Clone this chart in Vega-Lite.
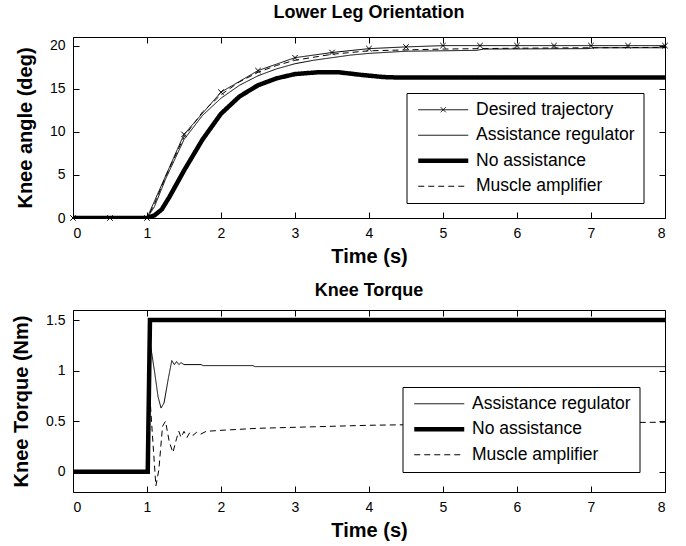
{
  "$schema": "https://vega.github.io/schema/vega-lite/v6.json",
  "padding": {"left": 11, "top": 3, "right": 10, "bottom": 2},
  "background": "white",
  "spacing": 14,
  "resolve": {
    "scale": {"color": "independent", "strokeWidth": "independent", "strokeDash": "independent"},
    "legend": {"color": "independent", "strokeWidth": "independent", "strokeDash": "independent"}
  },
  "datasets": {
    "angle": [
      {"s": "Desired trajectory", "t": 0, "v": 0},
      {"s": "Desired trajectory", "t": 0.5, "v": 0},
      {"s": "Desired trajectory", "t": 1, "v": 0},
      {"s": "Desired trajectory", "t": 1.5, "v": 9.7},
      {"s": "Desired trajectory", "t": 2, "v": 14.6},
      {"s": "Desired trajectory", "t": 2.5, "v": 17.1},
      {"s": "Desired trajectory", "t": 3, "v": 18.6},
      {"s": "Desired trajectory", "t": 3.5, "v": 19.2},
      {"s": "Desired trajectory", "t": 4, "v": 19.65},
      {"s": "Desired trajectory", "t": 4.5, "v": 19.85},
      {"s": "Desired trajectory", "t": 5, "v": 20},
      {"s": "Desired trajectory", "t": 5.5, "v": 20},
      {"s": "Desired trajectory", "t": 6, "v": 20},
      {"s": "Desired trajectory", "t": 6.5, "v": 20},
      {"s": "Desired trajectory", "t": 7, "v": 20},
      {"s": "Desired trajectory", "t": 7.5, "v": 20},
      {"s": "Desired trajectory", "t": 8, "v": 20},
      {"s": "Assistance regulator", "t": 0, "v": 0},
      {"s": "Assistance regulator", "t": 1, "v": 0},
      {"s": "Assistance regulator", "t": 1.1, "v": 1.3},
      {"s": "Assistance regulator", "t": 1.25, "v": 4.5},
      {"s": "Assistance regulator", "t": 1.5, "v": 9.1},
      {"s": "Assistance regulator", "t": 1.75, "v": 11.9},
      {"s": "Assistance regulator", "t": 2, "v": 13.9},
      {"s": "Assistance regulator", "t": 2.25, "v": 15.4},
      {"s": "Assistance regulator", "t": 2.5, "v": 16.5},
      {"s": "Assistance regulator", "t": 2.75, "v": 17.3},
      {"s": "Assistance regulator", "t": 3, "v": 17.9},
      {"s": "Assistance regulator", "t": 3.25, "v": 18.3},
      {"s": "Assistance regulator", "t": 3.5, "v": 18.6},
      {"s": "Assistance regulator", "t": 3.75, "v": 18.9},
      {"s": "Assistance regulator", "t": 4, "v": 19.1},
      {"s": "Assistance regulator", "t": 4.5, "v": 19.35},
      {"s": "Assistance regulator", "t": 5.45, "v": 19.45},
      {"s": "Assistance regulator", "t": 5.55, "v": 19.6},
      {"s": "Assistance regulator", "t": 6.95, "v": 19.65},
      {"s": "Assistance regulator", "t": 7.05, "v": 19.75},
      {"s": "Assistance regulator", "t": 8, "v": 19.75},
      {"s": "No assistance", "t": 0, "v": 0},
      {"s": "No assistance", "t": 1, "v": 0},
      {"s": "No assistance", "t": 1.1, "v": 0.3},
      {"s": "No assistance", "t": 1.2, "v": 1.0},
      {"s": "No assistance", "t": 1.3, "v": 2.4},
      {"s": "No assistance", "t": 1.5, "v": 5.5},
      {"s": "No assistance", "t": 1.75, "v": 9.1},
      {"s": "No assistance", "t": 2, "v": 12.1},
      {"s": "No assistance", "t": 2.25, "v": 14.1},
      {"s": "No assistance", "t": 2.5, "v": 15.4},
      {"s": "No assistance", "t": 2.75, "v": 16.2},
      {"s": "No assistance", "t": 3, "v": 16.7},
      {"s": "No assistance", "t": 3.3, "v": 16.9},
      {"s": "No assistance", "t": 3.6, "v": 16.9},
      {"s": "No assistance", "t": 3.9, "v": 16.6},
      {"s": "No assistance", "t": 4.2, "v": 16.35},
      {"s": "No assistance", "t": 4.4, "v": 16.3},
      {"s": "No assistance", "t": 8, "v": 16.3},
      {"s": "Muscle amplifier", "t": 0, "v": 0},
      {"s": "Muscle amplifier", "t": 1, "v": 0},
      {"s": "Muscle amplifier", "t": 1.1, "v": 1.6},
      {"s": "Muscle amplifier", "t": 1.25, "v": 4.8},
      {"s": "Muscle amplifier", "t": 1.5, "v": 9.4},
      {"s": "Muscle amplifier", "t": 1.75, "v": 12.3},
      {"s": "Muscle amplifier", "t": 2, "v": 14.3},
      {"s": "Muscle amplifier", "t": 2.25, "v": 15.8},
      {"s": "Muscle amplifier", "t": 2.5, "v": 16.9},
      {"s": "Muscle amplifier", "t": 2.75, "v": 17.7},
      {"s": "Muscle amplifier", "t": 3, "v": 18.3},
      {"s": "Muscle amplifier", "t": 3.5, "v": 19.0},
      {"s": "Muscle amplifier", "t": 4, "v": 19.4},
      {"s": "Muscle amplifier", "t": 5, "v": 19.6},
      {"s": "Muscle amplifier", "t": 6, "v": 19.7},
      {"s": "Muscle amplifier", "t": 7, "v": 19.75},
      {"s": "Muscle amplifier", "t": 8, "v": 19.8}
    ],
    "torque": [
      {"s": "Assistance regulator", "t": 0, "v": 0},
      {"s": "Assistance regulator", "t": 1.0, "v": 0},
      {"s": "Assistance regulator", "t": 1.02, "v": 0.9},
      {"s": "Assistance regulator", "t": 1.05, "v": 1.24},
      {"s": "Assistance regulator", "t": 1.1, "v": 1.0},
      {"s": "Assistance regulator", "t": 1.15, "v": 0.74},
      {"s": "Assistance regulator", "t": 1.19, "v": 0.63},
      {"s": "Assistance regulator", "t": 1.23, "v": 0.68},
      {"s": "Assistance regulator", "t": 1.29, "v": 0.93},
      {"s": "Assistance regulator", "t": 1.335, "v": 1.1},
      {"s": "Assistance regulator", "t": 1.37, "v": 1.06},
      {"s": "Assistance regulator", "t": 1.4, "v": 1.09},
      {"s": "Assistance regulator", "t": 1.43, "v": 1.06},
      {"s": "Assistance regulator", "t": 1.46, "v": 1.08},
      {"s": "Assistance regulator", "t": 1.5, "v": 1.06},
      {"s": "Assistance regulator", "t": 1.73, "v": 1.06},
      {"s": "Assistance regulator", "t": 1.76, "v": 1.05},
      {"s": "Assistance regulator", "t": 2.43, "v": 1.05},
      {"s": "Assistance regulator", "t": 2.46, "v": 1.04},
      {"s": "Assistance regulator", "t": 8, "v": 1.04},
      {"s": "No assistance", "t": 0, "v": 0},
      {"s": "No assistance", "t": 1.01, "v": 0},
      {"s": "No assistance", "t": 1.04, "v": 1.5},
      {"s": "No assistance", "t": 8, "v": 1.5},
      {"s": "Muscle amplifier", "t": 0, "v": 0},
      {"s": "Muscle amplifier", "t": 1.0, "v": 0},
      {"s": "Muscle amplifier", "t": 1.03, "v": 0.85},
      {"s": "Muscle amplifier", "t": 1.07, "v": 0.4},
      {"s": "Muscle amplifier", "t": 1.12, "v": -0.14},
      {"s": "Muscle amplifier", "t": 1.16, "v": 0.02},
      {"s": "Muscle amplifier", "t": 1.21, "v": 0.45},
      {"s": "Muscle amplifier", "t": 1.25, "v": 0.5},
      {"s": "Muscle amplifier", "t": 1.3, "v": 0.3},
      {"s": "Muscle amplifier", "t": 1.35, "v": 0.19},
      {"s": "Muscle amplifier", "t": 1.4, "v": 0.33},
      {"s": "Muscle amplifier", "t": 1.43, "v": 0.4},
      {"s": "Muscle amplifier", "t": 1.46, "v": 0.34},
      {"s": "Muscle amplifier", "t": 1.5, "v": 0.4},
      {"s": "Muscle amplifier", "t": 1.54, "v": 0.34},
      {"s": "Muscle amplifier", "t": 1.58, "v": 0.39},
      {"s": "Muscle amplifier", "t": 1.62, "v": 0.36},
      {"s": "Muscle amplifier", "t": 1.67, "v": 0.39},
      {"s": "Muscle amplifier", "t": 1.72, "v": 0.37},
      {"s": "Muscle amplifier", "t": 1.8, "v": 0.4},
      {"s": "Muscle amplifier", "t": 2, "v": 0.41},
      {"s": "Muscle amplifier", "t": 2.5, "v": 0.43},
      {"s": "Muscle amplifier", "t": 3, "v": 0.44},
      {"s": "Muscle amplifier", "t": 4, "v": 0.46},
      {"s": "Muscle amplifier", "t": 5, "v": 0.47},
      {"s": "Muscle amplifier", "t": 6, "v": 0.48},
      {"s": "Muscle amplifier", "t": 7, "v": 0.485},
      {"s": "Muscle amplifier", "t": 8, "v": 0.49}
    ]
  },
  "vconcat": [
    {
      "width": 592,
      "height": 181,
      "title": {"text": "Lower Leg Orientation", "fontSize": 18, "font": "Liberation Sans", "fontWeight": "bold", "color": "black", "offset": 15},
      "data": {"name": "angle"},
      "resolve": {"axis": {"x": "independent", "y": "independent"}},
      "layer": [
        {
          "mark": {"type": "line", "clip": true},
          "encoding": {
            "x": {"field": "t", "type": "quantitative", "scale": {"domain": [0, 8], "nice": false},
                  "axis": {"orient": "bottom", "values": [0,1,2,3,4,5,6,7,8], "title": "Time (s)", "tickSize": -6}},
            "y": {"field": "v", "type": "quantitative", "scale": {"domain": [0, 21], "nice": false, "zero": false},
                  "axis": {"orient": "left", "values": [0,5,10,15,20], "title": "Knee angle (deg)", "tickSize": -6}},
            "color": {"field": "s", "type": "nominal",
                      "scale": {"domain": ["Desired trajectory", "Assistance regulator", "No assistance", "Muscle amplifier"], "range": ["black", "black", "black", "black"]},
                      "legend": {"orient": "none", "legendX": 333.5, "legendY": 56, "title": null,
                                 "symbolType": "M-5,0L5,0", "symbolSize": 100, "symbolOffset": 20, "labelOffset": 24,
                                 "encode": {"symbols": {"update": {"shape": {"signal": "datum.value === 'Desired trajectory' ? 'M-5,0L5,0M-0.5,-0.5L0.5,0.5M-0.5,0.5L0.5,-0.5' : 'M-5,0L5,0'"}}}}}},
            "strokeWidth": {"field": "s", "type": "nominal",
                            "scale": {"type": "ordinal", "domain": ["Desired trajectory", "Assistance regulator", "No assistance", "Muscle amplifier"], "range": [1, 1, 4.5, 1]},
                            "legend": {"orient": "none", "legendX": 333.5, "legendY": 56, "title": null}},
            "strokeDash": {"field": "s", "type": "nominal",
                           "scale": {"domain": ["Desired trajectory", "Assistance regulator", "No assistance", "Muscle amplifier"], "range": [[1, 0], [1, 0], [1, 0], [6, 4]]},
                           "legend": {"orient": "none", "legendX": 333.5, "legendY": 56, "title": null}}
          }
        },
        {
          "transform": [{"filter": "datum.s === 'Desired trajectory'"}],
          "mark": {"type": "point", "shape": "M-1,-1L1,1M-1,1L1,-1", "size": 30, "filled": false, "stroke": "black", "strokeWidth": 1, "opacity": 1},
          "encoding": {
            "x": {"field": "t", "type": "quantitative", "axis": {"orient": "top", "values": [0,1,2,3,4,5,6,7,8], "labels": false, "title": null, "tickSize": -6}},
            "y": {"field": "v", "type": "quantitative", "axis": {"orient": "right", "values": [0,5,10,15,20], "labels": false, "title": null, "tickSize": -6}}
          }
        }
      ]
    },
    {
      "width": 592,
      "height": 182,
      "title": {"text": "Knee Torque", "fontSize": 18, "font": "Liberation Sans", "fontWeight": "bold", "color": "black", "offset": 10},
      "data": {"name": "torque"},
      "resolve": {"axis": {"x": "independent", "y": "independent"}},
      "layer": [
        {
          "mark": {"type": "line", "clip": true},
          "encoding": {
            "x": {"field": "t", "type": "quantitative", "scale": {"domain": [0, 8], "nice": false},
                  "axis": {"orient": "bottom", "values": [0,1,2,3,4,5,6,7,8], "title": "Time (s)", "tickSize": -6}},
            "y": {"field": "v", "type": "quantitative", "scale": {"domain": [-0.2, 1.6], "nice": false, "zero": false},
                  "axis": {"orient": "left", "values": [0, 0.5, 1, 1.5], "format": "~g", "title": "Knee Torque (Nm)", "tickSize": -6}},
            "color": {"field": "s", "type": "nominal",
                      "scale": {"domain": ["Assistance regulator", "No assistance", "Muscle amplifier"], "range": ["black", "black", "black"]},
                      "legend": {"orient": "none", "legendX": 329.5, "legendY": 77, "title": null,
                                 "symbolType": "M-5,0L5,0", "symbolSize": 100, "symbolOffset": 20, "labelOffset": 24}},
            "strokeWidth": {"field": "s", "type": "nominal",
                            "scale": {"type": "ordinal", "domain": ["Assistance regulator", "No assistance", "Muscle amplifier"], "range": [1, 4.5, 1]},
                            "legend": {"orient": "none", "legendX": 329.5, "legendY": 77, "title": null}},
            "strokeDash": {"field": "s", "type": "nominal",
                           "scale": {"domain": ["Assistance regulator", "No assistance", "Muscle amplifier"], "range": [[1, 0], [1, 0], [6, 4]]},
                           "legend": {"orient": "none", "legendX": 329.5, "legendY": 77, "title": null}}
          }
        },
        {
          "mark": {"type": "line", "opacity": 0},
          "encoding": {
            "x": {"field": "t", "type": "quantitative", "axis": {"orient": "top", "values": [0,1,2,3,4,5,6,7,8], "labels": false, "title": null, "tickSize": -6}},
            "y": {"field": "v", "type": "quantitative", "axis": {"orient": "right", "values": [0, 0.5, 1, 1.5], "labels": false, "title": null, "tickSize": -6}},
            "detail": {"field": "s"}
          }
        }
      ]
    }
  ],
  "config": {
    "font": "Liberation Sans",
    "view": {"stroke": "black", "strokeWidth": 1},
    "axis": {"domain": false, "grid": false, "tickColor": "black", "labelColor": "black", "titleColor": "black",
             "labelFont": "Liberation Sans", "labelFontSize": 14, "titleFont": "Liberation Sans", "titleFontSize": 20, "titleFontWeight": "bold", "labelPadding": 14, "titlePadding": 6},
    "axisY": {"titlePadding": 14},
    "legend": {"strokeColor": "black", "fillColor": "white", "padding": 8, "labelFont": "Liberation Sans", "labelFontSize": 17.5, "labelColor": "black", "rowPadding": 6.5, "cornerRadius": 0}
  }
}
